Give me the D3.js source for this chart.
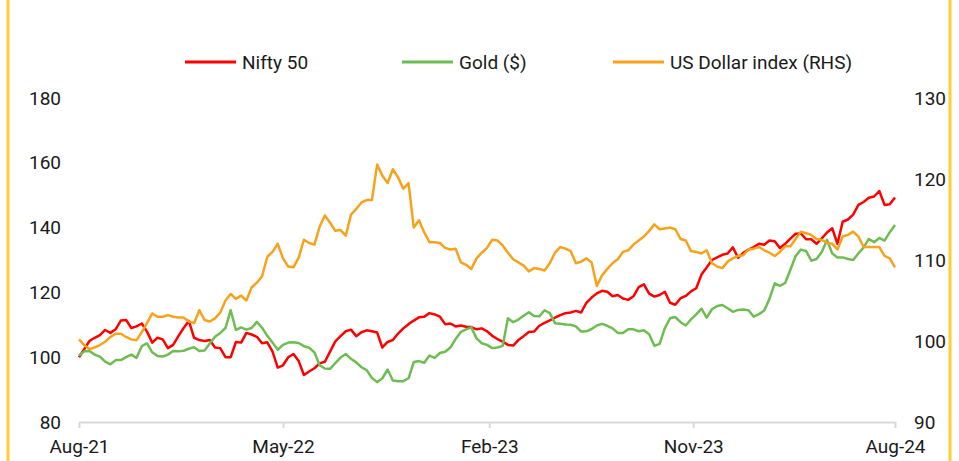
<!DOCTYPE html>
<html>
<head>
<meta charset="utf-8">
<script src="https://cdn.jsdelivr.net/npm/d3@7"></script>
<style>
	body { margin: 0; background: #fff; }
	#chartContainer { width: 959px; height: 461px; }
</style>
</head>
<body>
<div id="chartContainer"></div>
<script>
// weekly closes, rebased to 100 (USD index on right axis, actual level)
var START_DATE = '2021-08-06';
var niftyVals = [
	100, 102.5, 105, 106, 106.8, 108.4, 107.5, 108.6, 111.3, 111.5,
	109, 109.5, 110.4, 107.9, 104.5, 106, 105.5, 102.8, 103.8, 106.5,
	109, 111.2, 106, 105.3, 105, 105.3, 103, 102.8, 100, 100,
	104.7, 104.5, 107.5, 107, 106.3, 104.3, 104.6, 101.7, 96.8, 97.5,
	100, 101, 98.8, 94.5, 95.6, 96.6, 98.1, 98.6, 101.7, 104.9,
	106.5, 108, 108.5, 106.5, 107.7, 108.3, 108, 107.6, 103, 104.7,
	105.3, 107.3, 108.9, 110.2, 111.3, 112.3, 112.5, 113.6, 113.2, 112.5,
	110.2, 110.4, 109.5, 109.8, 109.4, 109.3, 108.6, 108.9, 108, 106.6,
	105.6, 104.8, 103.8, 103.6, 105.3, 106.5, 107.8, 107.9, 109.7, 110.6,
	111.4, 112.2, 113, 113.6, 113.8, 114.3, 113.8, 116.8, 118.4, 119.7,
	120.5, 120.2, 118.8, 119.2, 118.1, 117.7, 118.8, 121.6, 122.5, 119.6,
	118.7, 119.2, 120.2, 116.8, 116.2, 118.2, 118.9, 120.3, 121.3, 125.5,
	127.7, 130, 130.8, 131.6, 132, 133.9, 130.7, 132.2, 133.2, 134,
	135, 134.7, 136, 135.8, 133.7, 135, 136.6, 138.1, 138.2, 136.4,
	136.4, 135, 136.7, 138.5, 139.8, 135, 141.8, 142.5, 144, 147,
	147.9, 149.2, 149.6, 151.3, 147, 147.2, 149.3
];
var goldVals = [
	100.5, 101.8, 101.9, 100.8, 100.2, 98.6, 97.8, 99.1, 99.1, 100,
	100.8, 99.8, 103.4, 104.3, 101.5, 100.4, 100.2, 100.8, 101.9, 101.8,
	102, 102.6, 103.1, 101.9, 102.1, 104.2, 106.3, 107.5, 109, 114.5,
	108.4, 109.2, 108.5, 109, 110.9, 109.1, 106.6, 104.5, 102.3, 103.8,
	104.5, 104.6, 104.4, 103.4, 102.9, 101.5, 97.5, 96.5, 96.4, 98.2,
	99.9, 101, 99.5, 98.4, 96.9, 96, 93.6, 92.3, 93.5, 96.2,
	92.8, 92.6, 92.6, 93.5, 98.5, 98.8, 98.3, 100.5, 99.8, 101.3,
	101.7, 103, 105.6, 107.8, 108.6, 109.2, 105.8, 104.3, 103.8, 102.8,
	103, 103.5, 112, 110.8, 111.6, 112.8, 113.9, 112.7, 112.6, 114.5,
	113.6, 110.5, 110.3, 110.1, 110, 109.5, 107.9, 108, 108.7, 109.8,
	110.3, 109.7, 108.9, 107.5, 107.5, 108.6, 108.6, 108, 108.3, 107.1,
	103.5, 104.1, 109, 112, 112.4, 110.8, 109.8, 111.7, 113.2, 115,
	112.2, 114.8, 115.8, 116.1, 115.1, 114, 114.6, 114.7, 114.5, 112.5,
	113.3, 114.4, 118, 122.8, 122, 122.9, 127, 131.2, 133.2, 132.8,
	129.8, 130.3, 132.5, 136.2, 132, 130.8, 130.8, 130.3, 130, 132,
	133.9, 136.5, 135.5, 136.8, 136, 138.6, 140.8
];
var dxyVals = [
	100.2, 99.5, 99, 99.2, 99.5, 99.9, 100.5, 100.9, 100.9, 100.5,
	100.2, 100.1, 101.1, 102.2, 103.4, 103, 103, 103.2, 103, 102.9,
	102.9, 102.4, 102.2, 103.8, 102.6, 102.4, 102.8, 103.5, 105, 105.8,
	105.2, 105.6, 105, 106.6, 107.2, 108, 110.4, 111, 112, 110.2,
	109.2, 109.1, 110.3, 112.5, 112.1, 111.9, 114.1, 115.5, 114.6, 113.6,
	113.7, 113, 115.6, 116.3, 117.1, 117.4, 117.4, 121.8, 120.4, 119.5,
	121.2, 120.2, 118.8, 119.5, 114, 114.9, 113.4, 112.2, 112.2, 112.1,
	111.5, 111.3, 111.4, 109.7, 109.4, 108.9, 110.2, 110.9, 111.5, 112.5,
	112.4, 111.8, 110.9, 110.1, 109.7, 109.3, 108.6, 109, 108.9, 108.7,
	109.6, 110.9, 111.6, 111.4, 111.1, 109.6, 109.8, 110.2, 109.7, 106.8,
	108.1, 108.9, 109.6, 110.1, 111, 111.2, 111.9, 112.4, 112.9, 113.6,
	114.4, 113.8, 113.9, 114, 113.8, 112.6, 112.4, 111.1, 111, 110.8,
	111.2, 109.6, 109.2, 109, 109.8, 110.2, 110.5, 110.6, 111.3, 111.4,
	111.6, 111.2, 110.9, 110.5, 111, 111.7, 111.7, 112.6, 113.5, 113.3,
	113.1, 112.6, 112.5, 112.1, 112, 111.3, 112.9, 113.1, 113.5, 112.9,
	111.6, 111.6, 111.6, 111.6, 110.5, 110.2, 109.1
];
var seriesNames = ['Nifty 50', 'Gold ($)', 'US Dollar index (RHS)'];
var seriesColors = ['#ff0000', '#6dbd52', '#f7a21b'];
var xTickDates = ['2021-08-06', '2022-05-06', '2023-02-06', '2023-11-06', '2024-08-02'];
var xTickLabels = ['Aug-21', 'May-22', 'Feb-23', 'Nov-23', 'Aug-24'];
var leftTicks = [80, 100, 120, 140, 160, 180];
var rightTicks = [90, 100, 110, 120, 130];

function createChart(){
	var W = 959, H = 461;
	var parse = d3.timeParse('%Y-%m-%d');
	var start = parse(START_DATE);
	var dates = niftyVals.map(function(d, i) { return d3.timeDay.offset(start, i*7); });

	var svg = d3.select('#chartContainer').append('svg')
		.attr('width', W)
		.attr('height', H)
		.style('font-family', 'Roboto, sans-serif');

	// yellow frame edges
	svg.selectAll('line.frame')
		.data([8, 950])
		.enter().append('line')
		.attr('class', 'frame')
		.attr('x1', function(d) { return d; })
		.attr('x2', function(d) { return d; })
		.attr('y1', 0).attr('y2', H)
		.attr('stroke', '#ffcd34')
		.attr('stroke-width', 3);

	var x = d3.scaleTime().domain([dates[0], dates[dates.length-1]]).range([79, 895]);
	var yL = d3.scaleLinear().domain([80, 180]).range([422, 98]);
	var yR = d3.scaleLinear().domain([90, 130]).range([422, 98]);

	var xAxis = svg.append('g')
		.attr('transform', 'translate(0,422)')
		.call(d3.axisBottom(x)
			.tickValues(xTickDates.map(parse))
			.tickFormat(function(d, i) { return xTickLabels[i]; })
			.tickSize(6)
			.tickSizeOuter(0)
			.tickPadding(12));
	xAxis.select('.domain').attr('stroke', '#d9d9d9').attr('stroke-width', 2);
	xAxis.selectAll('.tick line').attr('stroke', '#d9d9d9').attr('stroke-width', 2);

	var lAxis = svg.append('g')
		.attr('transform', 'translate(79,0)')
		.call(d3.axisLeft(yL).tickValues(leftTicks).tickSize(0).tickPadding(18));
	var rAxis = svg.append('g')
		.attr('transform', 'translate(895,0)')
		.call(d3.axisRight(yR).tickValues(rightTicks).tickSize(0).tickPadding(19));
	lAxis.select('.domain').remove();
	rAxis.select('.domain').remove();

	svg.selectAll('.tick text')
		.style('font-family', 'Roboto, sans-serif')
		.style('font-size', '19px')
		.attr('fill', '#1a1a1a');

	var lineL = d3.line()
		.x(function(d, i) { return x(dates[i]); })
		.y(function(d) { return yL(d); });
	var lineR = d3.line()
		.x(function(d, i) { return x(dates[i]); })
		.y(function(d) { return yR(d); });

	var paths = [lineL(niftyVals), lineL(goldVals), lineR(dxyVals)];
	svg.selectAll('path.series')
		.data(paths)
		.enter().append('path')
		.attr('class', 'series')
		.attr('d', function(d) { return d; })
		.attr('fill', 'none')
		.attr('stroke', function(d, i) { return seriesColors[i]; })
		.attr('stroke-width', 2.5)
		.attr('stroke-linejoin', 'round');

	// legend
	var legX = [185, 402, 613];
	var leg = svg.selectAll('g.legend')
		.data(seriesNames)
		.enter().append('g')
		.attr('class', 'legend')
		.attr('transform', function(d, i) { return 'translate(' + legX[i] + ',62)'; });
	leg.append('line')
		.attr('x1', 0).attr('x2', 51)
		.attr('stroke', function(d, i) { return seriesColors[i]; })
		.attr('stroke-width', 3);
	leg.append('text')
		.attr('x', 57)
		.attr('dy', '0.35em')
		.text(function(d) { return d; })
		.style('font-size', '19px')
		.attr('fill', '#1a1a1a');
}

createChart();
</script>
</body>
</html>
